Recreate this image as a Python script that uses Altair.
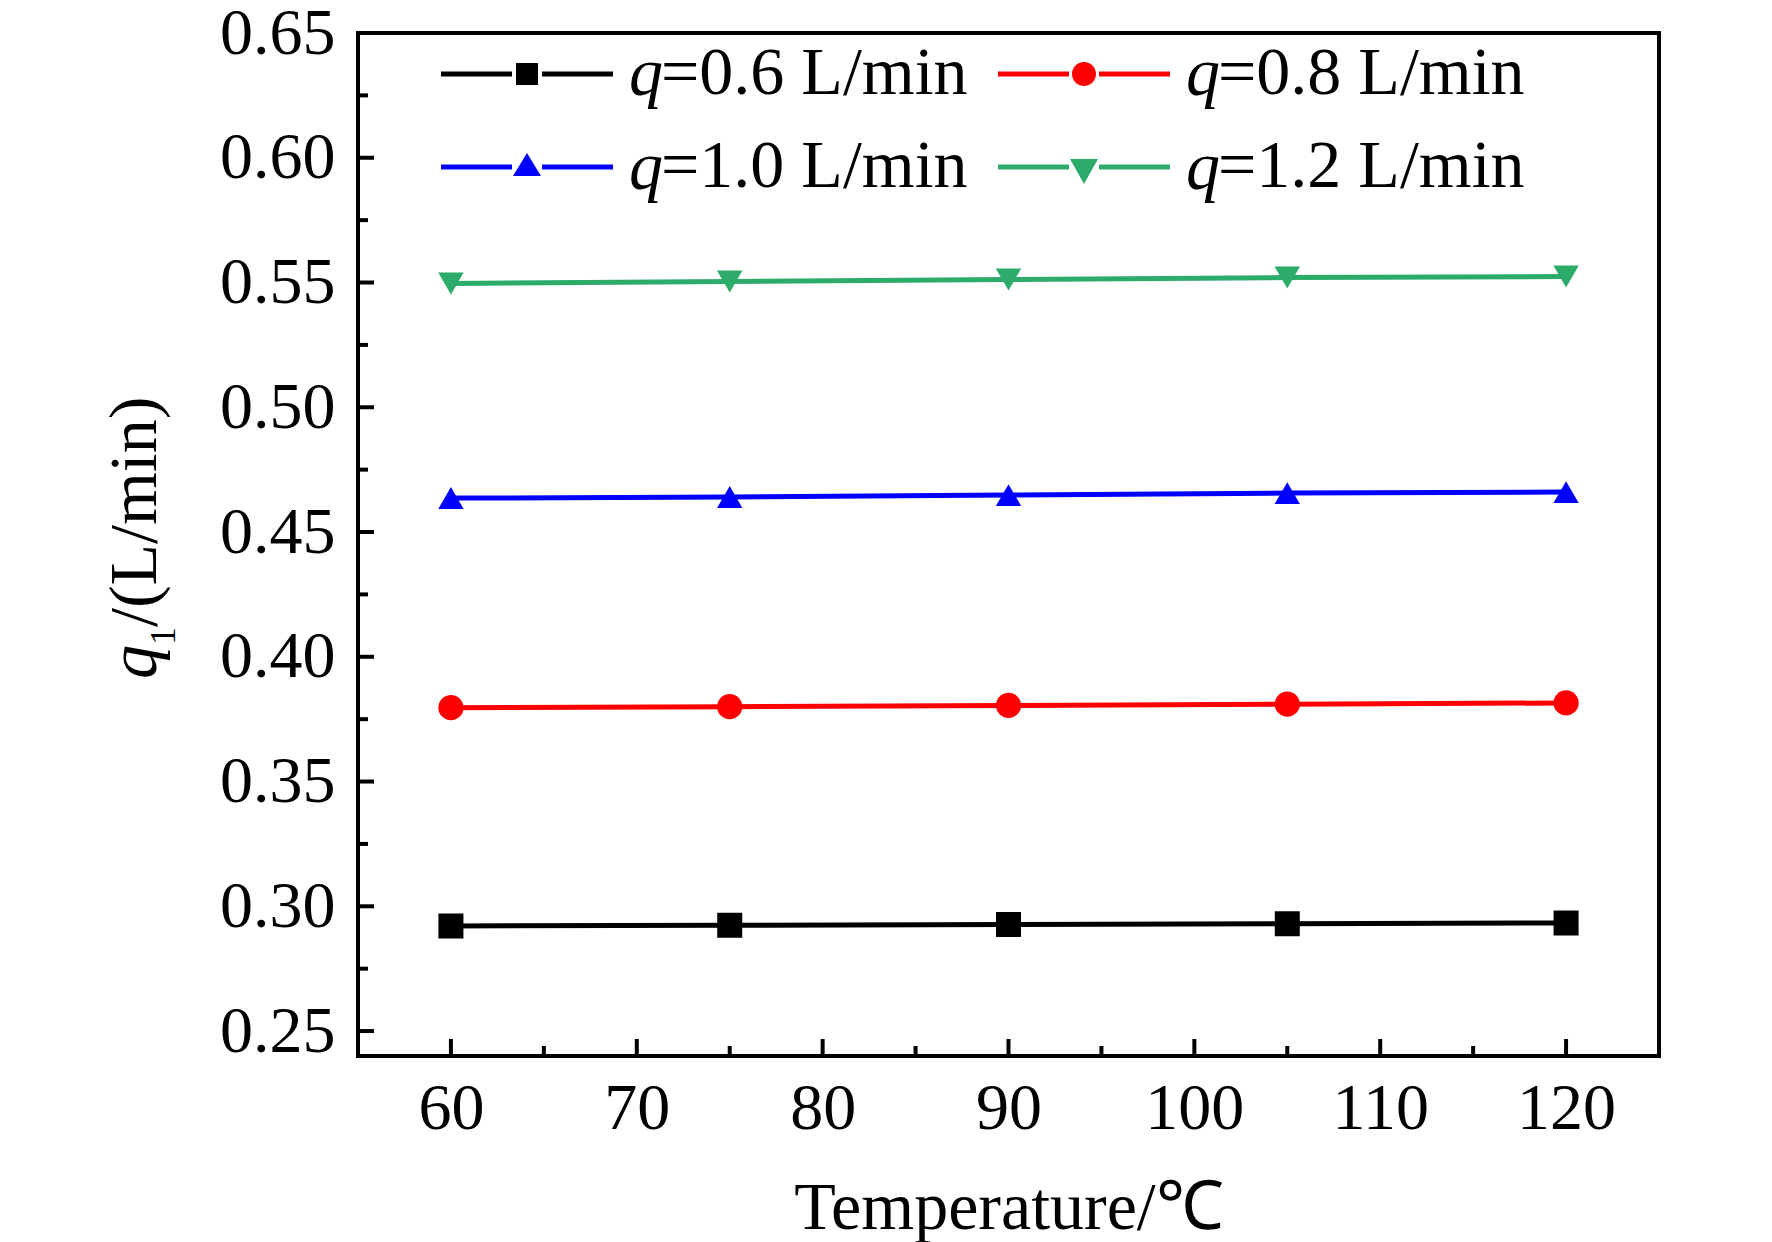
import pandas as pd
import altair as alt

# ---------- data ----------
temps = [60, 75, 90, 105, 120]
flows = ["0.6", "0.8", "1.0", "1.2"]
q06 = [0.2921, 0.2924, 0.2927, 0.2930, 0.2933]
q08 = [0.3796, 0.3800, 0.3805, 0.3810, 0.3815]
q10 = [0.4636, 0.4640, 0.4648, 0.4656, 0.4660]
q12 = [0.5496, 0.5504, 0.5512, 0.5520, 0.5524]

x_major = [60, 70, 80, 90, 100, 110, 120]
x_minor = [65, 75, 85, 95, 105, 115]
y_major = [0.25, 0.30, 0.35, 0.40, 0.45, 0.50, 0.55, 0.60, 0.65]
y_minor = [0.275, 0.325, 0.375, 0.425, 0.475, 0.525, 0.575, 0.625]

colors = ["#000000", "#ff0000", "#0000ff", "#2dab6b"]
shapes = ["square", "circle", "triangle-up", "triangle-down"]
marker_sizes = [625, 650, 840, 840]

# legend symbols: line + marker as one filled path (1 unit = sqrt(size)/2 px)
_line = "M-3.44,-0.1H-0.6V0.1H-3.44Z M0.6,-0.1H3.44V0.1H0.6Z "
legend_paths = [
    _line + "M-0.44,-0.44H0.44V0.44H-0.44Z",
    _line + "M-0.48,0A0.48,0.48 0 1,0 0.48,0A0.48,0.48 0 1,0 -0.48,0Z",
    _line + "M0,-0.56L0.56,0.36L-0.56,0.36Z",
    _line + "M-0.56,-0.32L0.56,-0.32L0,0.68Z",
]

W, H = 1301, 1023
FONT = "Liberation Serif"

rows = []
for f, vals in zip(flows, [q06, q08, q10, q12]):
    for t, v in zip(temps, vals):
        rows.append({"T": t, "q1": v, "series": f"={f} L/min"})
df = pd.DataFrame(rows)
labels = [f"={f} L/min" for f in flows]

x_scale = alt.Scale(domain=[55, 125], nice=False, zero=False)
y_scale = alt.Scale(domain=[0.24, 0.65], nice=False, zero=False)

x_enc = alt.X(
    "T:Q", scale=x_scale,
    axis=alt.Axis(values=x_major, format="d", title="Temperature/℃",
                  titleY=172, titleBaseline="alphabetic"),
)
y_enc = alt.Y("q1:Q", scale=y_scale, axis=alt.Axis(values=y_major, format=".2f", title=None))

base = alt.Chart(df)

lines = base.mark_line(strokeWidth=5).encode(
    x=x_enc, y=y_enc,
    color=alt.Color("series:N", scale=alt.Scale(domain=labels, range=colors), legend=None),
)

points = base.mark_point(filled=True, opacity=1).encode(
    x="T:Q", y="q1:Q",
    color=alt.Color("series:N", scale=alt.Scale(domain=labels, range=colors), legend=None),
    shape=alt.Shape("series:N", scale=alt.Scale(domain=labels, range=shapes), legend=None),
    size=alt.Size("series:N", scale=alt.Scale(domain=labels, range=marker_sizes), legend=None),
)

legend_opts = dict(
    title=None, orient="none", legendX=135, legendY=7, direction="horizontal",
    columns=2, columnPadding=30, rowPadding=25,
    symbolSize=2500, symbolStrokeWidth=0,
    labelOffset=100, labelFont=FONT, labelFontSize=68,
    labelColor="black", labelLimit=0, padding=0,
)

# empty layer that only carries the legend
legend_layer = base.transform_filter(alt.datum.T < 0).mark_point(filled=True, opacity=1).encode(
    x="T:Q", y="q1:Q",
    color=alt.Color("series:N", scale=alt.Scale(domain=labels, range=colors),
                    legend=alt.Legend(**legend_opts)),
    shape=alt.Shape("series:N", scale=alt.Scale(domain=labels, range=legend_paths),
                    legend=alt.Legend(**legend_opts)),
)

# inward ticks
xt_major = alt.Chart(pd.DataFrame({"T": x_major})).mark_rule(strokeWidth=4, color="black").encode(
    x="T:Q", y=alt.value(H), y2=alt.value(H - 17))
xt_minor = alt.Chart(pd.DataFrame({"T": x_minor})).mark_rule(strokeWidth=4, color="black").encode(
    x="T:Q", y=alt.value(H), y2=alt.value(H - 10))
yt_major = alt.Chart(pd.DataFrame({"q1": y_major})).mark_rule(strokeWidth=4, color="black").encode(
    y="q1:Q", x=alt.value(0), x2=alt.value(16))
yt_minor = alt.Chart(pd.DataFrame({"q1": y_minor})).mark_rule(strokeWidth=4, color="black").encode(
    y="q1:Q", x=alt.value(0), x2=alt.value(10))

one = alt.Chart(pd.DataFrame({"k": [0]}))


def label(text, x, y, size=68, italic=False, angle=0):
    kw = dict(text=text, font=FONT, fontSize=size, color="black", align="left",
              baseline="alphabetic")
    if italic:
        kw["fontStyle"] = "italic"
    if angle:
        kw["angle"] = angle
    return one.mark_text(**kw).encode(x=alt.value(x), y=alt.value(y))


texts = [
    label("q", -202, 646, italic=True, angle=270),
    label("1", -183, 612, size=36, angle=270),
    label("/(L/min)", -202, 594, angle=270),
    label("q", 271, 62, italic=True),
    label("q", 828, 62, italic=True),
    label("q", 271, 156, italic=True),
    label("q", 828, 156, italic=True),
]

chart = (
    alt.layer(lines, points, legend_layer, xt_major, xt_minor, yt_major, yt_minor, *texts)
    .resolve_scale(color="independent", shape="independent")
    .properties(width=W, height=H, autosize="none",
                padding={"left": 350, "top": 25, "right": 97, "bottom": 186})
    .configure_view(stroke="black", strokeWidth=4)
    .configure_axis(
        grid=False, ticks=False, tickSize=0, domain=False,
        labelFont=FONT, labelFontSize=66, labelColor="black",
        titleFont=FONT, titleFontSize=68, titleColor="black", titleFontWeight="normal",
    )
    .configure_axisX(labelPadding=20)
    .configure_axisY(labelPadding=23)
)

chart.save("out.html", embed_options={"renderer": "svg", "actions": False})
